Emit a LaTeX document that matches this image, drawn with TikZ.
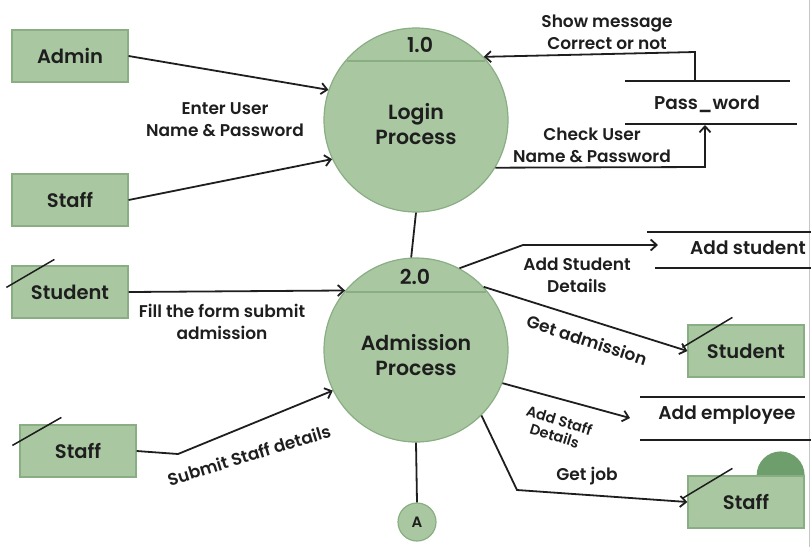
\documentclass[tikz,border=0pt]{standalone}
\usepackage{fontspec}
\setmainfont{Poppins}[BoldFont={Poppins SemiBold}]
\usetikzlibrary{arrows.meta,calc,backgrounds}
\definecolor{gfill}{HTML}{A9C8A1}
\definecolor{gedge}{HTML}{8AAE84}
\definecolor{gdark}{HTML}{6E9E6C}
\definecolor{ink}{HTML}{1E1E1E}
\tikzset{
  ext/.style={rectangle, fill=gfill, draw=gedge, line width=1.2pt, minimum width=116pt, minimum height=52pt, text=ink, font=\fontsize{19.5}{22}\selectfont\bfseries},
  proc/.style={circle, fill=gfill, draw=gedge, line width=1.2pt, minimum size=184pt, inner sep=0pt},
  ptext/.style={text=ink, font=\fontsize{20.5}{25}\selectfont\bfseries, align=center},
  lbl/.style={text=ink, font=\fontsize{17}{22}\selectfont\bfseries, align=center, inner sep=0pt},
  slbl/.style={text=ink, font=\fontsize{14.5}{16}\selectfont\bfseries, align=center, inner sep=0pt},
  stxt/.style={text=ink, font=\fontsize{18.5}{22}\selectfont\bfseries, inner sep=0pt},
  flow/.style={line width=1.8pt, draw=ink, -{Straight Barb[length=6pt,width=11pt,line width=1.8pt]}},
  plain/.style={line width=1.8pt, draw=ink},
  storeline/.style={line width=1.8pt, draw=ink},
  slash/.style={line width=1.5pt, draw=ink},
  chord/.style={line width=1.2pt, draw=gedge},
}
\begin{document}
\begin{tikzpicture}[x=1pt,y=-1pt]
\useasboundingbox (0,0) rectangle (811,547);
\draw[gray!45, line width=0.8pt] (809.5,0) -- (809.5,547);

% processes
\node[proc] (p1) at (416,120) {};
\draw[chord] ($(p1.center)+(-69,-59)$) -- ($(p1.center)+(69,-59)$);
\node[ptext] (p1n) at (420,45) {1.0};
\node[ptext] (p1t) at (416,124) {Login\\Process};

\node[proc] (p2) at (416,350) {};
\draw[chord] ($(p2.center)+(-70,-58)$) -- ($(p2.center)+(70,-58)$);
\node[ptext] (p2n) at (415,277) {2.0};
\node[ptext] (p2t) at (416,355) {Admission\\Process};

\node[circle, fill=gfill, draw=gedge, line width=1.2pt, minimum size=38pt, inner sep=0pt, text=ink, font=\fontsize{15}{18}\selectfont\bfseries] (a) at (417,522) {A};

% externals left
\node[ext] (admin) at (70,56) {Admin};
\node[ext] (staff1) at (70,200) {Staff};
\node[ext] (stu1) at (70,292) {Student};
\node[ext] (staff2) at (78,451) {Staff};
\draw[slash] ($(stu1.north west)+(-5,22)$) -- ($(stu1.north west)+(43,-6)$);
\draw[slash] ($(staff2.north west)+(-7,21)$) -- ($(staff2.north west)+(42,-7)$);

% externals right
\node[ext] (stu2) at (746,351) {Student};
\node[ext] (staff3) at (746,502) {Staff};
\begin{scope}[on background layer]
\fill[gdark] ($(staff3.north east)+(-48,0)$) arc[start angle=180, end angle=360, radius=24];
\end{scope}
\draw[slash] ($(stu2.north west)+(-5,23)$) -- ($(stu2.north west)+(45,-7)$);
\draw[slash] ($(staff3.north west)+(-5,23)$) -- ($(staff3.north west)+(45,-7)$);

% data stores
\coordinate (pwtl) at (625,81); \coordinate (pwtr) at (790,81);
\coordinate (pwbl) at (625,124); \coordinate (pwbr) at (797,124);
\draw[storeline] (pwtl) -- (pwtr);
\draw[storeline] (pwbl) -- (pwbr);
\node[stxt] (pw) at (707,104) {Pass\_word};

\coordinate (astl) at (647,232); \coordinate (astr) at (811,232);
\coordinate (asbl) at (655,268); \coordinate (asbr) at (811,268);
\draw[storeline] (astl) -- (astr);
\draw[storeline] (asbl) -- (asbr);
\node[stxt] (as) at (748,248) {Add student};

\coordinate (aetl) at (640,397); \coordinate (aetr) at (805,397);
\coordinate (aebl) at (640,440); \coordinate (aebr) at (811,440);
\draw[storeline] (aetl) -- (aetr);
\draw[storeline] (aebl) -- (aebr);
\node[stxt] (ae) at (727,415) {Add employee};

% flows to login
\draw[flow] (admin.east) -- (p1.161);
\draw[flow] (staff1.east) -- (p1.205);
\node[lbl] (l1) at (225,120) {Enter User\\Name \& Password};

\coordinate (sm1) at (695,81);
\coordinate (sm2) at (695,52);
\draw[flow] (sm1) -- (sm2) -- (p1.43);
\node[lbl] (l2) at (607,32) {Show message\\Correct or not};

\coordinate (cu1) at (705,167);
\coordinate (cu2) at (705,125);
\draw[flow] (p1.-31) -- (cu1) -- (cu2);
\node[lbl] (l3) at (592,145) {Check User\\Name \& Password};

% link
\draw[plain] (p1.270) -- (p2.93);
\draw[plain] (p2.south) -- (a.north);

% flows to admission
\draw[flow] (stu1.east) -- (p2.140);
\node[lbl] (l4) at (222,322) {Fill the form submit\\admission};

\coordinate (ss1) at (178,454);
\draw[flow] (staff2.east) -- (ss1) -- (p2.206);
\node[lbl, rotate=17] (l5) at (249,455) {Submit Staff details};

% flows out of admission
\coordinate (ad1) at (523,245);
\coordinate (ad2) at (658,245);
\draw[flow] (p2.62) -- (ad1) -- (ad2);
\node[lbl] (l6) at (577,275) {Add Student\\Details};

\draw[flow] (p2.43) -- (stu2.west);
\node[lbl, rotate=-18] (l7) at (587,340) {Get admission};

\coordinate (ae1) at (630,418);
\draw[flow] (p2.-21) -- (ae1);
\node[slbl, rotate=-17] (l8) at (557,428) {Add Staff\\Details};

\coordinate (gj1) at (517,490);
\draw[flow] (p2.-45) -- (gj1) -- (staff3.west);
\node[lbl] (l9) at (587,476) {Get job};
\end{tikzpicture}
\end{document}
